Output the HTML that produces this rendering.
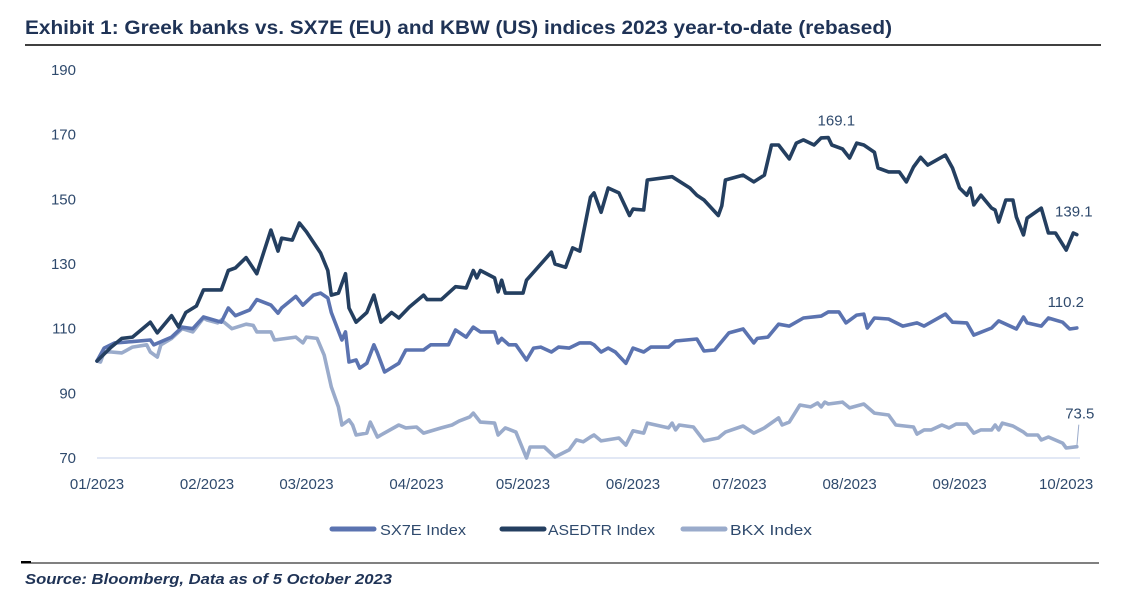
<!DOCTYPE html>
<html><head><meta charset="utf-8"><style>
body{margin:0;background:#fff;width:1131px;height:604px;overflow:hidden;font-family:"Liberation Sans",sans-serif}
svg{position:absolute;left:0;top:0}
</style></head><body>
<svg width="1131" height="604">
<text x="25" y="34" font-size="19" font-weight="bold" fill="#1f3356" textLength="867" lengthAdjust="spacingAndGlyphs">Exhibit 1: Greek banks vs. SX7E (EU) and KBW (US) indices 2023 year-to-date (rebased)</text>
<line x1="25" y1="45" x2="1101" y2="45" stroke="#000" stroke-width="1.5"/>
<g id="yaxis"></g>
<g id="xaxis"></g>
<line x1="97" y1="458" x2="1080" y2="458" stroke="#d9e1f2" stroke-width="1.5"/>
<g id="series"></g>
<g id="labels"></g>
<g>
<g><line x1="332" y1="529" x2="374" y2="529" stroke="#5b73b0" stroke-width="5" stroke-linecap="round"/><text x="380" y="535" font-size="15" fill="#2f4a6d" textLength="86" lengthAdjust="spacingAndGlyphs">SX7E Index</text></g>
<g><line x1="502" y1="529" x2="544" y2="529" stroke="#243f60" stroke-width="5" stroke-linecap="round"/><text x="548" y="535" font-size="15" fill="#2f4a6d" textLength="107" lengthAdjust="spacingAndGlyphs">ASEDTR Index</text></g>
<g><line x1="683" y1="529" x2="725" y2="529" stroke="#9aabcb" stroke-width="5" stroke-linecap="round"/><text x="730" y="535" font-size="15" fill="#2f4a6d" textLength="82" lengthAdjust="spacingAndGlyphs">BKX Index</text></g>
</g>
<line x1="21" y1="563" x2="1099" y2="563" stroke="#000" stroke-width="1"/>
<line x1="21" y1="562" x2="31" y2="562" stroke="#000" stroke-width="2"/>
<text x="25" y="584" font-size="15" font-weight="bold" font-style="italic" fill="#1f3356" textLength="367" lengthAdjust="spacingAndGlyphs">Source: Bloomberg, Data as of 5 October 2023</text>
</svg>
<script>
const yTicks=[190,170,150,130,110,90,70];
const monthLabels=["01/2023","02/2023","03/2023","04/2023","05/2023","06/2023","07/2023","08/2023","09/2023","10/2023"];
const monthDays=[0,31,59,90,120,151,181,212,243,273];
const asedtrDays=[0,4,7,10,15,17,21,23,25,28,30,35,37,39,42,45,49,51,52,55,57,59,63,65,66,68,70,71,73,76,78,80,83,85,88,92,93,97,101,104,106,107,108,112,113,114,115,120,121,128,129,132,134,136,139,140,142,144,147,150,151,154,155,162,167,169,171,175,176,177,182,185,188,190,192,195,197,199,202,204,206,207,210,212,214,216,219,220,223,226,228,230,232,234,239,241,243,245,246,247,249,252,253,254,256,258,259,261,262,266,268,270,273,275,276];
const asedtrVals=[100,104.3,107,107.4,112,108.7,114,110.5,115,117,122,122,128,128.8,132,127,140.5,134,138,137.4,142.7,140,133.4,128,120.4,121,127,116.4,112,115,120.4,112,115,113.3,116.7,120.4,119,119,123,122.6,128,125.7,128,125.7,121.4,125,121,121,125,133.7,130,129,135,134,150.7,152,146,153.5,152,145,147,146.7,156,157,153.5,151.3,149.8,145,148,156,157.5,155.4,157.5,166.8,166.8,162.5,167.4,168.4,166.8,169,169.1,166.8,165.6,162.8,167.4,166.8,164.6,159.7,158.5,158.5,155.4,160,163,160.6,163.7,159.7,153.5,151.3,153.5,148.3,151.3,147.3,146.7,143,149.8,149.8,144.5,139,144.2,147.3,139.6,139.6,134.3,139.6,139.1];
const sx7eDays=[0,2,5,10,15,16,21,24,27,30,35,37,39,43,45,49,51,52,56,58,61,63,65,66,69,70,71,73,74,76,78,79,81,85,87,92,94,99,101,104,106,108,112,113,114,116,118,121,123,125,128,130,133,136,139,140,142,144,146,149,151,154,156,161,163,169,171,174,178,182,185,186,189,192,195,199,204,206,209,211,214,216,217,219,223,227,231,233,239,241,245,247,252,254,259,261,262,266,268,272,274,276];
const sx7eVals=[100,104,105.6,106,106.5,105,107.4,110.5,110,113.6,112,116.4,114,115.8,119,117.3,114.8,116.4,120,117.3,120.4,121,119.5,115,106.5,109,99.7,100.3,97.8,99.3,105,102.5,96.6,99.3,103.4,103.4,105,105,109.6,107.4,110.5,109,109,105.6,107,105,105,100.3,104,104.3,102.8,104.3,104,105.6,105.6,105,102.8,104,102.8,99.3,104,102.8,104.3,104.3,106.2,106.8,103.1,103.4,108.7,109.9,105.6,107,107.4,111.4,110.8,113.3,113.9,115.2,115.2,111.8,114.2,114.5,110.2,113.3,113,110.8,111.8,110.8,114.5,112,111.8,108,110.2,112.4,109.9,113.6,111.8,110.8,113.3,112,109.9,110.2];
const bkxDays=[0,1,2,4,7,10,14,15,17,18,21,24,27,30,31,34,35,38,42,44,45,49,50,56,58,59,62,64,66,68,69,71,72,73,76,77,79,85,87,90,92,97,100,102,105,106,108,112,113,115,118,121,122,126,129,133,135,137,139,140,142,147,149,151,154,155,161,162,163,164,168,171,175,176,177,182,185,188,192,193,195,198,201,203,204,205,206,210,212,216,219,223,225,230,231,233,235,238,240,242,245,247,249,252,253,254,255,258,261,262,265,266,268,272,273,276];
const bkxVals=[100,99.7,102.8,102.8,102.5,104.3,105,102.8,101.2,105,107,110,109,113.3,112.7,111.8,112.7,110,111.4,111,109,109,106.5,107.4,105.6,107.4,107,101.8,92,85.8,80.2,81.8,80.2,77.1,77.7,81.1,76.5,80.2,79.3,79.6,77.7,79.3,80.2,81.4,82.7,83.9,81.1,80.8,77.1,79.3,78,70,73.4,73.4,70.3,72.5,75.6,75,76.5,77.1,75.3,76.2,74,78.4,77.7,80.8,79.3,80.8,78.7,80.2,79.6,75.3,76.2,77.1,78,79.9,77.7,79.3,82.4,80.2,81.1,86.4,85.8,87,85.8,87.3,86.7,87.3,85.5,86.7,83.9,83.3,80.2,79.6,77.4,78.7,78.7,80.2,79.3,80.5,80.5,77.7,78.7,78.7,80.2,78.7,80.8,79.9,78,77.1,77.1,75.6,76.5,74.6,73.1,73.5];
const NS="http://www.w3.org/2000/svg";
function xS(d){return 97+d*3.55;}
function yS(v){return 458-(v-70)*3.233;}
function mk(tag,attrs,parent){const e=document.createElementNS(NS,tag);for(const k in attrs)e.setAttribute(k,attrs[k]);parent.appendChild(e);return e;}
const ya=document.getElementById('yaxis');
yTicks.forEach(t=>{const e=mk('text',{x:76,y:yS(t)+5,'font-size':15,fill:'#2f4a6d','text-anchor':'end'},ya);e.textContent=t;

});
const xa=document.getElementById('xaxis');
monthLabels.forEach((m,i)=>{const e=mk('text',{x:xS(monthDays[i]),y:489,'font-size':15,fill:'#2f4a6d','text-anchor':'middle'},xa);e.textContent=m;

});
const sg=document.getElementById('series');
function line(days,vals,color,name){const d=days.map((x,i)=>(i?'L':'M')+xS(x).toFixed(1)+' '+yS(vals[i]).toFixed(1)).join(' ');
const p=mk('path',{d:d,fill:'none',stroke:color,'stroke-width':3.6,'stroke-linejoin':'round','stroke-linecap':'round'},sg);

}
line(bkxDays,bkxVals,'#9aabcb','bkx-line');
line(sx7eDays,sx7eVals,'#5b73b0','sx7e-line');
line(asedtrDays,asedtrVals,'#243f60','asedtr-line');
const lg=document.getElementById('labels');
function lab(txt,x,y,name){const e=mk('text',{x:x,y:y,'font-size':15,fill:'#2f4a6d','text-anchor':'middle'},lg);e.textContent=txt;

}
const pk=asedtrVals.indexOf(Math.max(...asedtrVals));
lab(asedtrVals[pk].toFixed(1),xS(asedtrDays[pk])+8,yS(asedtrVals[pk])-12,'asedtr-peak-label');
const la=asedtrVals.length-1,ls=sx7eVals.length-1,lb=bkxVals.length-1;
lab(asedtrVals[la].toFixed(1),xS(asedtrDays[la])-3,yS(asedtrVals[la])-18,'asedtr-last-label');
lab(sx7eVals[ls].toFixed(1),xS(sx7eDays[ls])-11,yS(sx7eVals[ls])-21,'sx7e-last-label');
lab(bkxVals[lb].toFixed(1),xS(bkxDays[lb])+3,yS(bkxVals[lb])-28,'bkx-last-label');
const ld=mk('line',{x1:xS(bkxDays[lb])+2,y1:yS(bkxVals[lb])-22,x2:xS(bkxDays[lb]),y2:yS(bkxVals[lb]),stroke:'#9aabcb','stroke-width':1},lg);


</script>
</body></html>
